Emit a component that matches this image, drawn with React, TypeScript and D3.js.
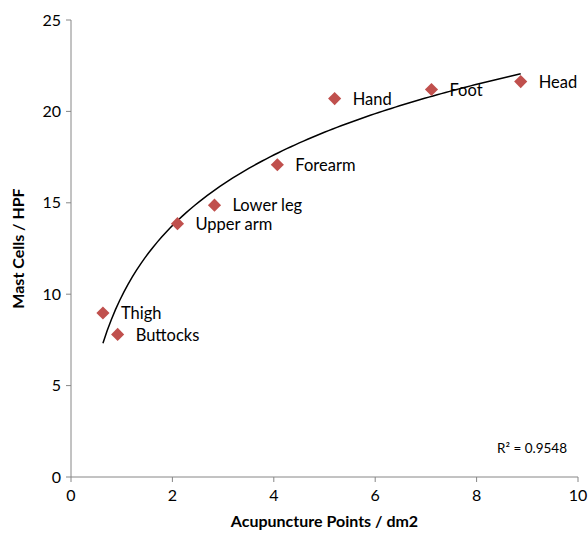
import { useMemo } from "react";
import * as d3 from "d3";

const sites = ["Thigh", "Buttocks", "Upper arm", "Lower leg", "Forearm", "Hand", "Foot", "Head"];
const acupuncturePoints = [0.63, 0.92, 2.1, 2.83, 4.07, 5.2, 7.11, 8.87];
const mastCells = [8.97, 7.8, 13.86, 14.87, 17.08, 20.7, 21.2, 21.63];
const xTicks = [0, 2, 4, 6, 8, 10];
const yTicks = [0, 5, 10, 15, 20, 25];
const rSquaredLabel = "R² = 0.9548";

const W = 588;
const H = 539;
const margin = { left: 71, right: 10, top: 20, bottom: 62 };
const FONT = "Lato, 'Open Sans', sans-serif";
const AXIS = "#868686";
const MARKER = "#C0504D";

export default function App() {
  const x = d3.scaleLinear().domain([0, 10]).range([margin.left, W - margin.right]);
  const y = d3.scaleLinear().domain([0, 25]).range([H - margin.bottom, margin.top]);

  // logarithmic trendline, least squares on ln(x)
  const trend = useMemo(() => {
    const lx = acupuncturePoints.map(Math.log);
    const mx = d3.mean(lx)!;
    const my = d3.mean(mastCells)!;
    const sxy = d3.sum(lx, (v, i) => (v - mx) * (mastCells[i] - my));
    const sxx = d3.sum(lx, (v) => (v - mx) ** 2);
    const a = sxy / sxx;
    const b = my - a * mx;
    const [lo, hi] = d3.extent(acupuncturePoints) as [number, number];
    const xs = d3.range(0, 101).map((i) => lo + ((hi - lo) * i) / 100);
    return d3
      .line<number>()
      .x((v) => x(v))
      .y((v) => y(a * Math.log(v) + b))(xs);
  }, []);

  const diamond = d3.symbol().type(d3.symbolDiamond2).size(110)();
  const x0 = x(0);
  const y0 = y(0);

  return (
    <svg
      width={W}
      height={H}
      style={{ position: "absolute", left: 0, top: 0, background: "#fff" }}
      fontFamily={FONT}
    >
      {/* axes */}
      <line x1={x0} x2={x0} y1={y(25)} y2={y0} stroke={AXIS} />
      <line x1={x0} x2={x(10)} y1={y0} y2={y0} stroke={AXIS} />
      {yTicks.map((t) => (
        <g key={"y" + t}>
          <line x1={x0 - 5} x2={x0} y1={y(t)} y2={y(t)} stroke={AXIS} />
          <text x={x0 - 10} y={y(t)} dy="0.35em" textAnchor="end" fontSize={16} fill="#000">
            {t}
          </text>
        </g>
      ))}
      {xTicks.map((t) => (
        <g key={"x" + t}>
          <line x1={x(t)} x2={x(t)} y1={y0} y2={y0 + 5} stroke={AXIS} />
          <text x={x(t)} y={y0 + 24} textAnchor="middle" fontSize={16} fill="#000">
            {t}
          </text>
        </g>
      ))}
      <text
        x={(x0 + x(10)) / 2}
        y={527}
        textAnchor="middle"
        fontSize={16}
        fontWeight="bold"
      >
        Acupuncture Points / dm2
      </text>
      <text
        transform={`translate(24,${(y(25) + y0) / 2}) rotate(-90)`}
        textAnchor="middle"
        fontSize={16}
        fontWeight="bold"
      >
        Mast Cells / HPF
      </text>

      {/* trendline */}
      <path d={trend ?? ""} fill="none" stroke="#000" strokeWidth={1.5} />

      {/* points + labels */}
      {sites.map((s, i) => (
        <g key={s}>
          <path
            d={diamond ?? ""}
            transform={`translate(${x(acupuncturePoints[i])},${y(mastCells[i])})`}
            fill={MARKER}
          />
          <text
            x={x(acupuncturePoints[i]) + 18}
            y={y(mastCells[i])}
            dy="0.38em"
            fontSize={16.5}
            fill="#000"
          >
            {s}
          </text>
        </g>
      ))}

      <text x={567} y={453} textAnchor="end" fontSize={13.5} fill="#000">
        {rSquaredLabel}
      </text>
    </svg>
  );
}
